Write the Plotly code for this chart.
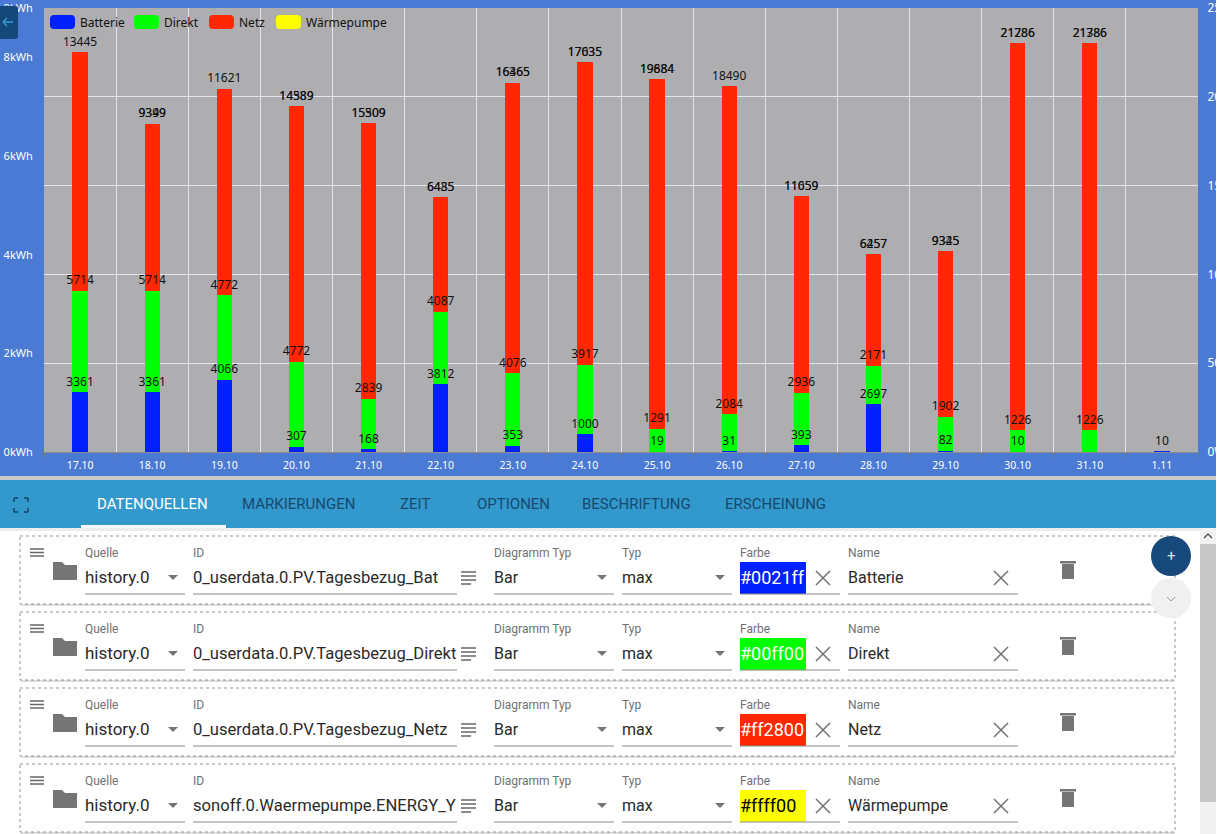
import numpy as np
import plotly.graph_objects as go

W, H = 1223, 834

days = ["17.10", "18.10", "19.10", "20.10", "21.10", "22.10", "23.10", "24.10",
        "25.10", "26.10", "27.10", "28.10", "29.10", "30.10", "31.10", "1.11"]
batterie = [3361, 3361, 4066, 307, 168, 3812, 353, 1000, 19, 31, 393, 2697, 82, 10, None, 10]
direkt = [5714, 5714, 4772, 4772, 2839, 4087, 4076, 3917, 1291, 2084, 2936, 2171, 1902, 1226, 1226, None]
netz = [13445, 9399, 11621, 14389, 15509, 6435, 16365, 17035, 19684, 18490, 11059, 6257, 9325, 21786, 21786, None]
waermepumpe = [None, 9349, None, 14589, 15309, 6485, 16465, 17635, 19884, None, 11659, 6457, 9345, 21286, 21386, None]

names = ["Batterie", "Direkt", "Netz", "Wärmepumpe"]
colors = ["#0021ff", "#00ff00", "#ff2800", "#ffff00"]
color_text = ["#ffffff", "#ffffff", "#ffffff", "#000000"]
ids = ["0_userdata.0.PV.Tagesbezug_Bat", "0_userdata.0.PV.Tagesbezug_Direkt",
       "0_userdata.0.PV.Tagesbezug_Netz", "sonoff.0.Waermepumpe.ENERGY_Y"]
tabs = ["DATENQUELLEN", "MARKIERUNGEN", "ZEIT", "OPTIONEN", "BESCHRIFTUNG", "ERSCHEINUNG"]
tab_x = [97, 242, 400, 477, 582, 725]

watt_ticks = [0, 5000, 10000, 15000, 20000, 25000]
# the page cuts these labels off at its right edge, this is what stays visible
watt_labels = ["0W", "50", "10", "15", "20", "25"]
kwh_ticks = [0, 2, 4, 6, 8, 9]


def px(x):
    return x / W


def py(y):
    return 1 - y / H


shapes = []
notes = []


def box(x0, y0, x1, y1, fill="rgba(0,0,0,0)", line=None, width=1, dash=None, kind="rect"):
    shapes.append(dict(type=kind, xref="paper", yref="paper", x0=px(x0), x1=px(x1), y0=py(y0), y1=py(y1),
                       fillcolor=fill, layer="above",
                       line=dict(color=line or "rgba(0,0,0,0)", width=width if line else 0, dash=dash)))


def seg(x0, y0, x1, y1, color, width=1):
    shapes.append(dict(type="line", xref="paper", yref="paper", x0=px(x0), x1=px(x1), y0=py(y0), y1=py(y1),
                       layer="above", line=dict(color=color, width=width)))


def poly(points, fill):
    d = "M" + "L".join(f"{px(a):.5f},{py(b):.5f}" for a, b in points) + "Z"
    shapes.append(dict(type="path", xref="paper", yref="paper", path=d, fillcolor=fill, layer="above",
                       line=dict(width=0)))


def rounded(x0, y0, x1, y1, r, fill):
    def pt(a, b):
        return f"{px(a):.5f},{py(b):.5f}"
    d = (f"M{pt(x0 + r, y0)}L{pt(x1 - r, y0)}Q{pt(x1, y0)} {pt(x1, y0 + r)}L{pt(x1, y1 - r)}"
         f"Q{pt(x1, y1)} {pt(x1 - r, y1)}L{pt(x0 + r, y1)}Q{pt(x0, y1)} {pt(x0, y1 - r)}"
         f"L{pt(x0, y0 + r)}Q{pt(x0, y0)} {pt(x0 + r, y0)}Z")
    shapes.append(dict(type="path", xref="paper", yref="paper", path=d, fillcolor=fill, layer="above",
                       line=dict(width=0)))


def label(x, y, text, size=16.0, color="#333333", anchor="left", font="Roboto"):
    notes.append(dict(xref="paper", yref="paper", x=px(x - 1), y=py(y), text=text, showarrow=False,
                      xanchor=anchor, yanchor="middle", borderpad=0,
                      font=dict(family=font, size=size, color=color)))


def cross(x, y, r=7, color="#757575"):
    seg(x - r, y - r, x + r, y + r, color, 1.6)
    seg(x - r, y + r, x + r, y - r, color, 1.6)


def lines_icon(x0, x1, y, gap=4, n=3, color="#666666", short=False):
    for k in range(n):
        seg(x0, y + k * gap, x1, y + k * gap, color, 1.5)
    if short:
        seg(x0, y + n * gap, x1 - 5, y + n * gap, color, 1.5)


def dropdown(x, y):
    poly([(x - 5, y - 2), (x + 5, y - 2), (x, y + 3)], "#757575")


fig = go.Figure()
stack = np.zeros(len(days))
label_sets = []
for name, color, values in zip(names[:3], colors[:3], [batterie, direkt, netz]):
    heights = np.array([0 if v is None else v for v in values], dtype=float)
    fig.add_trace(go.Bar(x=days, y=heights, name=name, marker=dict(color=color, line=dict(width=0)),
                         showlegend=False))
    stack = stack + heights
    label_sets.append((stack.copy(), values))
# Waermepumpe has no bar height here, only its label on top of the stack
fig.add_trace(go.Bar(x=days, y=[0] * len(days), name=names[3], marker=dict(color=colors[3], line=dict(width=0)),
                     showlegend=False))
label_sets.append((stack.copy(), waermepumpe))

for tops, values in label_sets:
    fig.add_trace(go.Scatter(x=days, y=tops, mode="markers+text", marker=dict(size=4, opacity=0),
                             text=["" if v is None else str(v) for v in values],
                             textposition="top center", showlegend=False, hoverinfo="skip",
                             textfont=dict(family="Noto Sans", size=12, color="#111111")))

# the left scale needs a trace to be drawn
fig.add_trace(go.Scatter(x=days[:len(kwh_ticks)], y=kwh_ticks, yaxis="y2", mode="none", showlegend=False,
                         hoverinfo="skip"))

# page chrome below and around the chart
box(0, 476, W, H, fill="#ffffff")
box(0, 476, W, 480, fill="#c8c8c8")
box(0, 480, W, 528, fill="#3398cc")
box(0, 528, W, 531, fill="#ececec")
box(81, 525, 226, 528, fill="#ffffff")
for t, x in zip(tabs, tab_x):
    label(x, 504, t, size=15, color="#ffffff" if t == "DATENQUELLEN" else "#174a70")
for cx, cy, a, b in [(14, 498, 1, 1), (28, 498, -1, 1), (14, 512, 1, -1), (28, 512, -1, -1)]:
    seg(cx, cy, cx + 4 * a, cy, "#174a70", 1.6)
    seg(cx, cy, cx, cy + 4 * b, "#174a70", 1.6)

# clip of the right axis labels, and back button
box(1216, 0, W, H, fill="#ffffff")
rounded(-6, 6, 18, 39, 3, "#14487a")
seg(3, 22, 13, 22, "#3398cc", 1.6)
seg(3, 22, 7, 18, "#3398cc", 1.6)
seg(3, 22, 7, 26, "#3398cc", 1.6)

# legend
legend_x = [50, 134, 209, 276]
for x, name, color in zip(legend_x, names, colors):
    rounded(x, 15, x + 25, 29, 4, color)
    label(x + 30, 22.5, name, size=12, color="#111111", font="Noto Sans")

# data source rows
for i, (name, color, tcolor, sid) in enumerate(zip(names, colors, color_text, ids)):
    t = 536 + 76 * i
    seg(21, t + 69, 1175, t + 69, "#d4d4d4", 1.5)
    box(20, t, 1175, t + 68, line="#777777", width=0.8, dash="dot")
    lines_icon(30, 44, t + 13, gap=3.5)
    poly([(53, t + 26), (62, t + 26), (65, t + 29), (77, t + 29), (77, t + 44), (53, t + 44)], "#757575")
    fields = [(85, 185, "Quelle", "history.0", 17), (193, 457, "ID", sid, 16.6), (494, 614, "Diagramm Typ", "Bar", 16),
              (622, 732, "Typ", "max", 16), (848, 1018, "Name", name, 16)]
    for x, x1, cap, val, size in fields:
        label(x, t + 17, cap, size=12, color="#707070")
        label(x, t + 41, val, size=size, color="#2a2a2a")
        seg(x, t + 58, x1, t + 58, "#8a8a8a", 1)
    for x in [173, 602, 720]:
        dropdown(x, t + 41)
    lines_icon(461, 476, t + 36, gap=4, short=True)
    label(740, t + 17, "Farbe", size=12, color="#707070")
    box(740, t + 26, 806, t + 58, fill=color)
    label(740, t + 41, color, size=18, color=tcolor)
    seg(740, t + 58, 840, t + 58, "#8a8a8a", 1)
    cross(823, t + 42)
    cross(1001, t + 42)
    box(1062, t + 28, 1074, t + 43, fill="#757575")
    box(1060, t + 25, 1076, t + 27.5, fill="#757575")

# scrollbar
box(1200, 528, 1216, H, fill="#f1f1f1")
box(1200, 544, 1216, 802, fill="#c8c8c8")
seg(1204, 538, 1208, 534, "#505050", 1.5)
seg(1208, 534, 1212, 538, "#505050", 1.5)

# floating buttons
box(1151, 578, 1191, 618, fill="#f0f0f0", kind="circle")
seg(1167, 597, 1171, 601, "#9a9a9a", 1)
seg(1171, 601, 1175, 597, "#9a9a9a", 1)
box(1151, 536, 1191, 576, fill="#17497a", kind="circle")
label(1172, 556, "+", size=15, color="#d8e4f0", anchor="center")

fig.update_layout(
    width=W, height=H, margin=dict(l=0, r=0, t=0, b=0),
    paper_bgcolor="#4a7ad4", plot_bgcolor="#aeaeb0",
    barmode="stack", bargap=0.79,
    shapes=shapes,
    annotations=notes,
    xaxis=dict(domain=[px(44), px(1198)], type="category", tickson="boundaries", range=[-0.5, 15.5], automargin=False,
               showgrid=True, gridcolor="#e4e4ee", gridwidth=1, ticks="outside", ticklen=4, tickcolor="#777777",
               showline=True, linecolor="#8c8c8c", linewidth=1, ticklabelstandoff=3,
               tickfont=dict(family="Noto Sans", size=10.5, color="#ffffff"), fixedrange=True),
    yaxis=dict(domain=[py(452), py(8)], side="right", range=[0, 25000], tickvals=watt_ticks, automargin=False,
               ticktext=watt_labels, showgrid=True, gridcolor="#e4e4ee", gridwidth=1,
               zeroline=False, ticks="outside", ticklen=6, tickcolor="rgba(0,0,0,0)", ticklabeloverflow="allow",
               tickfont=dict(family="Noto Sans", size=12, color="#ffffff"), fixedrange=True),
    yaxis2=dict(overlaying="y", side="left", range=[0, 9], tickvals=kwh_ticks, automargin=False,
                ticktext=[f"{v}kWh" for v in kwh_ticks], showgrid=False, zeroline=False, ticks="outside", ticklen=8,
                tickcolor="rgba(0,0,0,0)", ticklabeloverflow="allow",
                tickfont=dict(family="Noto Sans", size=11, color="#ffffff"), fixedrange=True),
    hovermode=False,
)

fig.write_html("out.html", post_script="document.body.style.margin='0';document.body.style.overflow='hidden';",
               config=dict(displayModeBar=False))
